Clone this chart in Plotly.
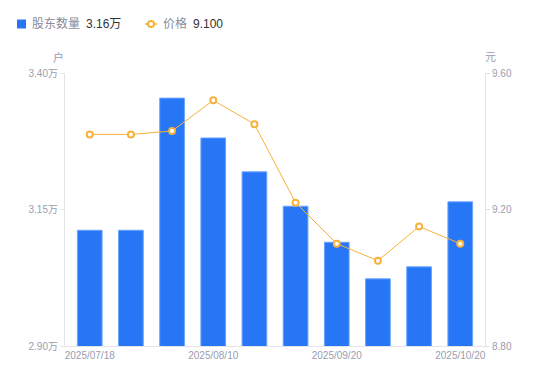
import plotly.graph_objects as go

dates = ["2025/07/18", "2025/07/25", "2025/07/31", "2025/08/10", "2025/08/20",
         "2025/08/31", "2025/09/20", "2025/09/30", "2025/10/10", "2025/10/20"]
holders = [3.112, 3.112, 3.354, 3.281, 3.219, 3.156, 3.090, 3.023, 3.045, 3.164]
prices = [9.42, 9.42, 9.43, 9.52, 9.45, 9.22, 9.10, 9.05, 9.15, 9.10]
tick_dates = ["2025/07/18", "2025/08/10", "2025/09/20", "2025/10/20"]
left_ticks = [2.90, 3.15, 3.40]
left_labels = ["2.90万", "3.15万", "3.40万"]
right_ticks = [8.80, 9.20, 9.60]
right_labels = ["8.80", "9.20", "9.60"]

BLUE = "#2776f6"
ORANGE = "#f7b23b"
GRAY = "#9a9cb0"
AXIS = "#e3e4ea"
FONT = "'Liberation Sans', Arial, 'Noto Sans CJK SC', sans-serif"

fig = go.Figure()
fig.add_trace(go.Bar(x=dates, y=holders, marker=dict(color=BLUE, line=dict(color="#6aa3ff", width=1)),
                     width=0.6, yaxis="y", hoverinfo="skip"))
fig.add_trace(go.Scatter(x=dates, y=prices, mode="lines+markers", yaxis="y2",
                         line=dict(color=ORANGE, width=1),
                         marker=dict(symbol="circle", size=6, color="white",
                                     line=dict(color=ORANGE, width=2)),
                         hoverinfo="skip"))

OFF = 8  # page body margin
W, H = 550 - OFF, 381 - OFF
L, T = 65 - OFF, 73 - OFF
pw, ph = 420, 273
R, B = W - L - pw, H - T - ph
# page pixel -> paper coords
def px(x): return (x - OFF - L) / pw
def py(y): return (T + ph - (y - OFF)) / ph

fig.update_layout(
    width=W, height=H, margin=dict(l=L, r=R, t=T, b=B, autoexpand=False),
    paper_bgcolor="white", plot_bgcolor="white", showlegend=False,
    font=dict(family=FONT, size=10, color=GRAY),
    xaxis=dict(type="category", tickmode="array", tickvals=tick_dates, ticktext=tick_dates,
               showline=True, linecolor=AXIS, linewidth=1, ticks="", showgrid=False,
               tickfont=dict(size=10, color=GRAY)),
    yaxis=dict(range=[2.90, 3.40], tickvals=left_ticks, ticktext=left_labels,
               showline=True, linecolor=AXIS, linewidth=1, ticks="outside", ticklen=4,
               tickcolor=AXIS, showgrid=False, zeroline=False, tickfont=dict(size=10, color=GRAY)),
    yaxis2=dict(range=[8.80, 9.60], tickvals=right_ticks, ticktext=right_labels,
                overlaying="y", side="right", showline=True, linecolor=AXIS, linewidth=1,
                ticks="outside", ticklen=4, tickcolor=AXIS, showgrid=False, zeroline=False,
                tickfont=dict(size=10, color=GRAY)),
)

ann = [
    dict(x=px(58), y=py(57), text="户", xanchor="center", yanchor="middle",
         font=dict(size=11, color=GRAY)),
    dict(x=px(490), y=py(57), text="元", xanchor="center", yanchor="middle",
         font=dict(size=11, color=GRAY)),
    dict(x=px(30), y=py(24), text="股东数量", xanchor="left", yanchor="middle",
         font=dict(size=12, color="#8a8c99")),
    dict(x=px(84), y=py(24), text=f"{holders[-1]:.2f}万", xanchor="left", yanchor="middle",
         font=dict(size=12, color="#333333")),
    dict(x=px(161), y=py(24), text="价格", xanchor="left", yanchor="middle",
         font=dict(size=12, color="#8a8c99")),
    dict(x=px(191), y=py(24), text=f"{prices[-1]:.3f}", xanchor="left", yanchor="middle",
         font=dict(size=12, color="#333333")),
]
for a in ann:
    a.update(xref="paper", yref="paper", showarrow=False)
fig.update_layout(annotations=ann)

shapes = [
    dict(type="rect", x0=px(17), x1=px(26), y0=py(19.5), y1=py(28.5), fillcolor=BLUE,
         line=dict(width=0)),
    dict(type="line", x0=px(145), x1=px(157), y0=py(24), y1=py(24),
         line=dict(color=ORANGE, width=1.5)),
    dict(type="circle", x0=px(148), x1=px(154), y0=py(21), y1=py(27), fillcolor="white",
         line=dict(color=ORANGE, width=2)),
]
for s in shapes:
    s.update(xref="paper", yref="paper")
fig.update_layout(shapes=shapes)

fig.write_html("out.html")
